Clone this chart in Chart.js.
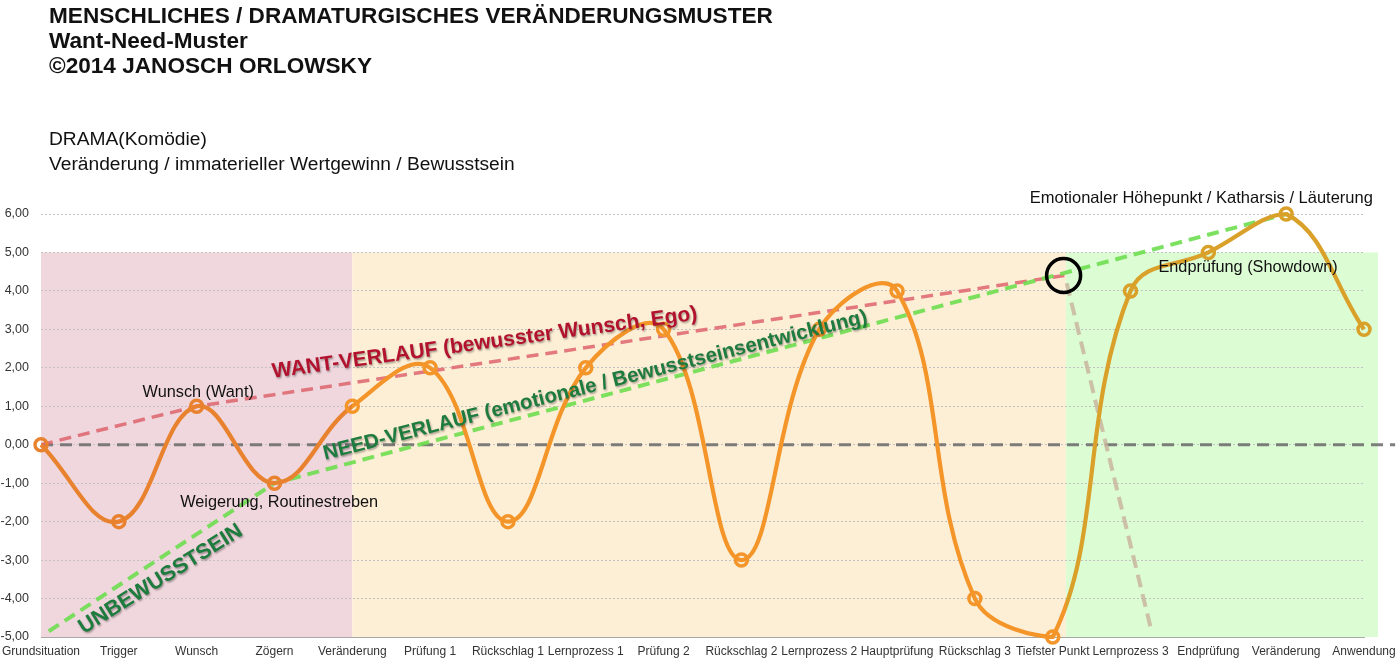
<!DOCTYPE html>
<html lang="de">
<head>
<meta charset="utf-8">
<title>Want-Need-Muster</title>
<script src="https://cdn.jsdelivr.net/npm/chart.js@4.4.1/dist/chart.umd.min.js"></script>
<style>
  body { margin: 0; background: #fff; font-family: 'Liberation Sans', Arial, Helvetica, sans-serif; }
  #wrap { position: relative; width: 1400px; height: 666px; overflow: hidden; }
  #myChart { position: absolute; left: 0; top: 0; }
  .kopf { position: absolute; left: 49px; color: #111; white-space: nowrap; }
  #titel { top: 3px; font-size: 22.6px; font-weight: bold; line-height: 25px; }
  #untertitel { top: 126px; font-size: 19.2px; line-height: 25px; }
</style>
</head>
<body>
<div id="wrap">
  <canvas id="myChart" width="1400" height="666"></canvas>
  <div class="kopf" id="titel">MENSCHLICHES / DRAMATURGISCHES VERÄNDERUNGSMUSTER<br>Want-Need-Muster<br>©2014 JANOSCH ORLOWSKY</div>
  <div class="kopf" id="untertitel">DRAMA(Komödie)<br>Veränderung / immaterieller Wertgewinn / Bewusstsein</div>
</div>
<script>
const STATIONEN = ['Grundsituation', 'Trigger', 'Wunsch', 'Zögern', 'Veränderung', 'Prüfung 1', 'Rückschlag 1', 'Lernprozess 1', 'Prüfung 2', 'Rückschlag 2', 'Lernprozess 2', 'Hauptprüfung', 'Rückschlag 3', 'Tiefster Punkt', 'Lernprozess 3', 'Endprüfung', 'Veränderung', 'Anwendung'];
const VERLAUF = [0, -2, 1, -1, 1, 2, -2, 2, 3, -3, 3, 4, -4, -5, 4, 5, 6, 3];

const Y_MIN = -5, Y_MAX = 6;

const WANT_X = [0, 2, 13.15];
const WANT_Y = [0, 1, 4.4];
const NEED_X = [0.1, 3, 16];
const NEED_Y = [-4.85, -1, 6];
const WENDE_X = [13.18, 14.27];
const WENDE_Y = [4.2, -4.85];
const NULL_X = [0, 17.4];
const NULL_Y = [0, 0];
const KREIS_X = [13.14];
const KREIS_Y = [4.4];

const PHASEN = [
    { von: 0, bis: 4, oben: 5, unten: -5, farbe: '#efd7dd' },
    { von: 4, bis: 13.17, oben: 5, unten: -5, farbe: '#fdefd6' },
    { von: 13.17, bis: 17.18, oben: 5, unten: -5, farbe: '#dcfcd4' }
];

const BESCHRIFTUNGEN = [
    { text: 'WANT-VERLAUF (bewusster Wunsch, Ego)', x: 2.98, y: 1.74, winkel: -7.8, font: 'bold 21px "Liberation Sans", Arial', farbe: '#b3122e', align: 'left', baseline: 'alphabetic', schatten: true },
    { text: 'NEED-VERLAUF (emotionale / Bewusstseinsentwicklung)', x: 3.65, y: -0.39, winkel: -14.2, font: 'bold 20.5px "Liberation Sans", Arial', farbe: '#1d7b3d', align: 'left', baseline: 'alphabetic', schatten: true },
    { text: 'UNBEWUSSTSEIN', x: 0.55, y: -4.93, winkel: -32, font: 'bold 21.5px "Liberation Sans", Arial', farbe: '#1d7b3d', align: 'left', baseline: 'alphabetic', schatten: true },
    { text: 'Wunsch (Want)', x: 2.02, y: 1.35, winkel: 0, font: '16.3px "Liberation Sans", Arial', farbe: '#111', align: 'center', baseline: 'middle' },
    { text: 'Weigerung, Routinestreben', x: 3.06, y: -1.51, winkel: 0, font: '16.3px "Liberation Sans", Arial', farbe: '#111', align: 'center', baseline: 'middle' },
    { text: 'Emotionaler Höhepunkt / Katharsis / Läuterung', x: 14.91, y: 6.41, winkel: 0, font: '16.5px "Liberation Sans", Arial', farbe: '#111', align: 'center', baseline: 'middle' },
    { text: 'Endprüfung (Showdown)', x: 15.51, y: 4.61, winkel: 0, font: '16.3px "Liberation Sans", Arial', farbe: '#111', align: 'center', baseline: 'middle' }
];

function punkte(xs, ys) {
    return xs.map((x, i) => ({ x: x, y: ys[i] }));
}

function kurvenFarbe(context) {
    const chart = context.chart;
    const x = chart.scales.x;
    if (!chart.chartArea || !x) return '#f39a2e';
    const breite = x.right - x.left;
    const p1 = (x.getPixelForValue(PHASEN[1].von) - x.left) / breite;
    const p2 = (x.getPixelForValue(PHASEN[2].von) - x.left) / breite;
    const g = chart.ctx.createLinearGradient(x.left, 0, x.right, 0);
    g.addColorStop(0, '#e9822f');
    g.addColorStop(p1, '#e9822f');
    g.addColorStop(p1, '#f4952a');
    g.addColorStop(p2, '#f4952a');
    g.addColorStop(p2, '#d9a02a');
    g.addColorStop(1, '#d9a02a');
    return g;
}

const punktFarben = VERLAUF.map((v, i) => i < 4 ? '#e9822f' : (i <= 13 ? '#f4952a' : '#d9a02a'));

const phasenPlugin = {
    id: 'phasen',
    beforeDraw(chart) {
        const ctx = chart.ctx, xs = chart.scales.x, ys = chart.scales.y;
        PHASEN.forEach(p => {
            const x1 = xs.getPixelForValue(p.von), x2 = xs.getPixelForValue(p.bis);
            const y1 = ys.getPixelForValue(p.oben), y2 = ys.getPixelForValue(p.unten);
            ctx.save();
            ctx.fillStyle = p.farbe;
            ctx.fillRect(x1, y1, x2 - x1, y2 - y1);
            ctx.restore();
        });
    }
};

const textPlugin = {
    id: 'beschriftung',
    afterDatasetsDraw(chart) {
        const ctx = chart.ctx, xs = chart.scales.x, ys = chart.scales.y;
        BESCHRIFTUNGEN.forEach(b => {
            ctx.save();
            ctx.translate(xs.getPixelForValue(b.x), ys.getPixelForValue(b.y));
            ctx.rotate(b.winkel * Math.PI / 180);
            ctx.font = b.font;
            ctx.fillStyle = b.farbe;
            ctx.textAlign = b.align;
            ctx.textBaseline = b.baseline;
            if (b.schatten) {
                ctx.shadowColor = 'rgba(0,0,0,0.35)';
                ctx.shadowOffsetX = 1;
                ctx.shadowOffsetY = 1.5;
                ctx.shadowBlur = 2;
            }
            ctx.fillText(b.text, 0, 0);
            ctx.restore();
        });
    }
};

Chart.defaults.font.family = '"Liberation Sans", Arial, Helvetica, sans-serif';
Chart.defaults.color = '#333';

var ctx = document.getElementById('myChart').getContext('2d');
var myChart = new Chart(ctx, {
    type: 'line',
    data: {
        datasets: [
            {
                label: 'Verlauf',
                data: VERLAUF.map((y, i) => ({ x: i, y: y })),
                borderColor: kurvenFarbe,
                borderWidth: 4.2,
                tension: 0.4,
                pointRadius: 6,
                pointBorderWidth: 3.5,
                pointBorderColor: punktFarben,
                pointBackgroundColor: 'rgba(0,0,0,0)',
                fill: false,
                clip: false,
                order: 0
            },
            {
                label: 'Wendepunkt',
                data: punkte(KREIS_X, KREIS_Y),
                showLine: false,
                pointRadius: 17,
                pointBorderWidth: 3.5,
                pointBorderColor: '#000',
                pointBackgroundColor: 'rgba(0,0,0,0)',
                clip: false,
                order: 1
            },
            {
                label: 'Want',
                data: punkte(WANT_X, WANT_Y),
                borderColor: 'rgba(222,100,108,0.85)',
                borderWidth: 3.5,
                borderDash: [12, 7],
                pointRadius: 0,
                tension: 0,
                order: 3
            },
            {
                label: 'Need',
                data: punkte(NEED_X, NEED_Y),
                borderColor: 'rgba(110,222,80,0.9)',
                borderWidth: 4,
                borderDash: [12, 7],
                pointRadius: 0,
                tension: 0,
                order: 2
            },
            {
                label: 'Wende',
                data: punkte(WENDE_X, WENDE_Y),
                borderColor: 'rgba(200,178,155,0.8)',
                borderWidth: 4,
                borderDash: [13, 7],
                pointRadius: 0,
                tension: 0,
                order: 4
            },
            {
                label: 'Null',
                data: punkte(NULL_X, NULL_Y),
                borderColor: 'rgba(105,105,105,0.85)',
                borderWidth: 3,
                borderDash: [12, 7],
                pointRadius: 0,
                tension: 0,
                clip: false,
                order: 5
            }
        ]
    },
    options: {
        responsive: false,
        animation: false,
        layout: { padding: { top: 214, right: 36, bottom: 0, left: 0 } },
        plugins: {
            legend: { display: false },
            tooltip: { enabled: false }
        },
        scales: {
            x: {
                type: 'linear',
                min: 0,
                max: STATIONEN.length - 1,
                afterFit: function(scale) {
                    scale.height = 29;
                    scale.paddingLeft = 0;
                    scale.paddingRight = 0;
                },
                grid: { display: false, drawTicks: false },
                border: { display: true, color: '#a8a8a8', width: 1 },
                ticks: {
                    stepSize: 1,
                    autoSkip: false,
                    maxRotation: 0,
                    padding: 7,
                    font: { size: 12 },
                    color: '#333',
                    callback: function(value) { return STATIONEN[value]; }
                }
            },
            y: {
                min: Y_MIN,
                max: Y_MAX,
                afterFit: function(scale) { scale.width = 41; },
                grid: { color: '#c2c2c2', lineWidth: 1, drawTicks: false },
                border: { display: false, dash: [2, 2] },
                ticks: {
                    stepSize: 1,
                    padding: 12,
                    font: { size: 12.5 },
                    color: '#333',
                    callback: function(value) { return value.toFixed(2).replace('.', ','); }
                }
            }
        }
    },
    plugins: [phasenPlugin, textPlugin]
});
</script>
</body>
</html>
